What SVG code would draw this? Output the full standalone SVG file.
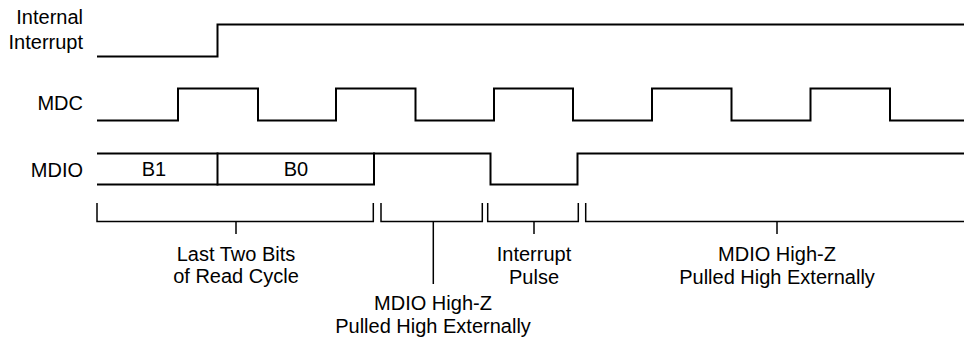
<svg xmlns="http://www.w3.org/2000/svg" width="964" height="341" viewBox="0 0 964 341">
<style>
.sig{fill:none;stroke:#000;stroke-width:2;stroke-linejoin:miter;stroke-linecap:square}
.br{fill:none;stroke:#000;stroke-width:1.5}
text{font-family:"Liberation Sans",Arial,sans-serif;font-size:20px;fill:#000}
.r{text-anchor:end}
.c{text-anchor:middle}
</style>
<rect width="964" height="341" fill="#fff"/>
<g id="label-internal-interrupt">
<text class="r" x="83" y="23.5">Internal</text>
<text class="r" x="83" y="48.5">Interrupt</text>
</g>
<g id="label-mdc"><text class="r" x="83" y="109.5">MDC</text></g>
<g id="label-mdio"><text class="r" x="83" y="176.5">MDIO</text></g>
<g id="signal-internal-interrupt">
<path class="sig" d="M98,56.5 H217.5 V24.5 H965"/>
</g>
<g id="signal-mdc">
<path class="sig" d="M98,120.5 H178 V88.5 H258 V120.5 H336 V88.5 H415.5 V120.5 H494 V88.5 H573 V120.5 H652 V88.5 H731.5 V120.5 H810.5 V88.5 H890 V120.5 H965"/>
</g>
<g id="signal-mdio">
<path class="sig" d="M98,153.5 H490.5 V184.5 H577.5 V153.5 H965"/>
<path class="sig" d="M98,184.5 H374 V153.5"/>
<path class="sig" d="M217.5,153.5 V184.5"/>
<text class="c" x="154" y="175.5">B1</text>
<text class="c" x="296" y="175.5">B0</text>
</g>
<g id="connectors">
<path class="br" d="M97,203 V221.5 H373.3 V203"/>
<path class="br" d="M236,221.5 V234"/>
<path class="br" d="M381,203 V221.5 H482.3 V203"/>
<path class="br" d="M433.3,221.5 V284"/>
<path class="br" d="M487.7,203 V221.5 H578.3 V203"/>
<path class="br" d="M534,221.5 V234"/>
<path class="br" d="M585.7,203 V221.5 H965"/>
<path class="br" d="M777,221.5 V234"/>
</g>
<g id="label-last-two-bits">
<text class="c" x="236" y="260.5">Last Two Bits</text>
<text class="c" x="236" y="283">of Read Cycle</text>
</g>
<g id="label-highz-1">
<text class="c" x="433" y="310">MDIO High-Z</text>
<text class="c" x="433" y="332.5">Pulled High Externally</text>
</g>
<g id="label-interrupt-pulse">
<text class="c" x="534" y="261">Interrupt</text>
<text class="c" x="534" y="283.5">Pulse</text>
</g>
<g id="label-highz-2">
<text class="c" x="777" y="261">MDIO High-Z</text>
<text class="c" x="777" y="283.5">Pulled High Externally</text>
</g>
</svg>
